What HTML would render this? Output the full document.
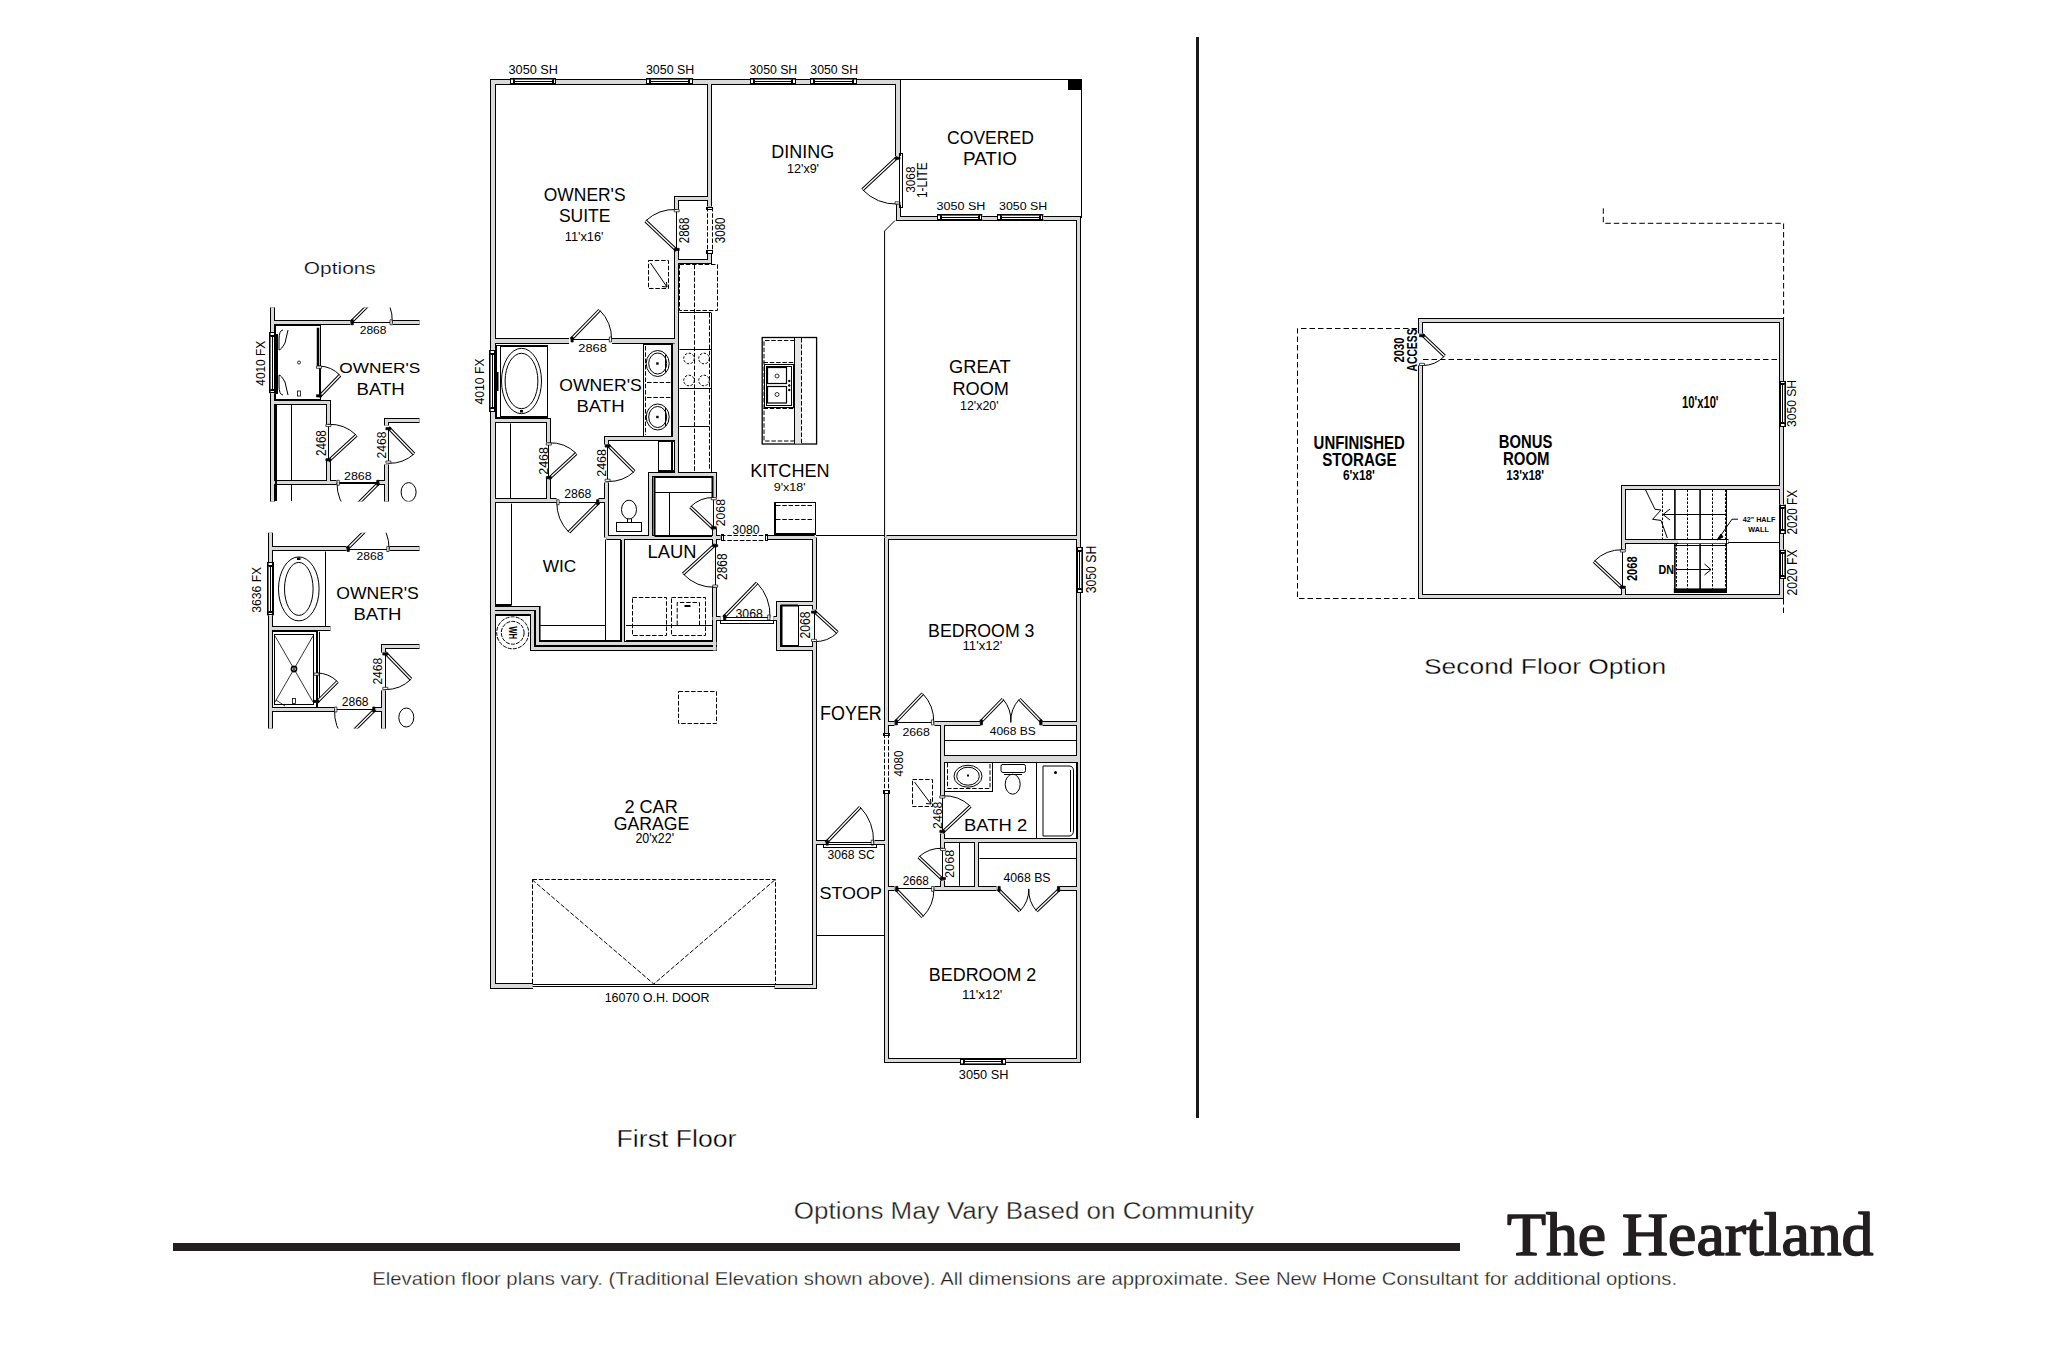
<!DOCTYPE html>
<html><head><meta charset="utf-8"><title>The Heartland</title>
<style>
html,body{margin:0;padding:0;background:#fff;}
body{width:2048px;height:1347px;overflow:hidden;}
svg{display:block;}
.F{font-family:"Liberation Sans",sans-serif;}
.S{font-family:"Liberation Serif",serif;}
</style></head><body>
<svg width="2048" height="1347" viewBox="0 0 2048 1347">
<rect x="0" y="0" width="2048" height="1347" fill="#fff"/>
<g fill="none">
<path d="M898 156 L898 82 L493 82 L493 986 L533 986" stroke="#000" stroke-width="6"/>
<path d="M774.5 986.5 L814.5 986.5 L814.5 641.5" stroke="#000" stroke-width="5"/>
<path d="M814.5 609.5 L814.5 537.5" stroke="#000" stroke-width="5"/>
<path d="M898.5 204.5 L898.5 218.5 L1078.5 218.5 L1078.5 1060.5 L886.5 1060.5 L886.5 793.5" stroke="#000" stroke-width="5"/>
<path d="M886.5 733.5 L886.5 537.5" stroke="#000" stroke-width="5"/>
<path d="M709.5 82.5 L709.5 206.5" stroke="#000" stroke-width="5"/>
<path d="M709.5 252.5 L709.5 261.5 L676.5 261.5" stroke="#000" stroke-width="5"/>
<path d="M709.5 198.5 L676.5 198.5 L676.5 209.5" stroke="#000" stroke-width="5"/>
<path d="M676.5 250.5 L676.5 474.5" stroke="#000" stroke-width="5"/>
<path d="M675.5 343.5 L675.5 438.5" stroke="#000" stroke-width="7"/>
<path d="M493 341 L569 341" stroke="#000" stroke-width="6"/>
<path d="M612 341 L677 341" stroke="#000" stroke-width="6"/>
<path d="M492.5 420.5 L548.5 420.5 L548.5 442.5" stroke="#000" stroke-width="5"/>
<path d="M548.5 478.5 L548.5 500.5" stroke="#000" stroke-width="5"/>
<path d="M492.5 500.5 L556.5 500.5" stroke="#000" stroke-width="5"/>
<path d="M598.5 500.5 L606.5 500.5" stroke="#000" stroke-width="5"/>
<path d="M676.5 438.5 L606.5 438.5 L606.5 444.5" stroke="#000" stroke-width="5"/>
<path d="M606.5 482.5 L606.5 537.5" stroke="#000" stroke-width="5"/>
<path d="M606.5 537.5 L720.5 537.5" stroke="#000" stroke-width="5"/>
<path d="M767.5 537.5 L814.5 537.5" stroke="#000" stroke-width="5"/>
<path d="M622.5 537.5 L622.5 642.5" stroke="#000" stroke-width="5"/>
<path d="M650.5 537.5 L650.5 474.5 L714.5 474.5 L714.5 497.5" stroke="#000" stroke-width="5"/>
<path d="M714.5 528.5 L714.5 544.5" stroke="#000" stroke-width="5"/>
<path d="M714.5 586.5 L714.5 650.5" stroke="#000" stroke-width="5"/>
<path d="M712.5 618.5 L720.5 618.5" stroke="#000" stroke-width="5"/>
<path d="M773.5 618.5 L778.5 618.5" stroke="#000" stroke-width="5"/>
<path d="M814.5 603.5 L778.5 603.5 L778.5 648.5 L814.5 648.5" stroke="#000" stroke-width="5"/>
<path d="M814.5 842.5 L826.5 842.5" stroke="#000" stroke-width="5"/>
<path d="M874.5 842.5 L886.5 842.5" stroke="#000" stroke-width="5"/>
<path d="M492.5 608.5 L537.5 608.5 L537.5 643.5 L716.5 643.5" stroke="#000" stroke-width="5"/>
<path d="M492.5 612.5 L532.5 612.5 L532.5 648.5 L716.5 648.5" stroke="#000" stroke-width="5"/>
<path d="M886.5 537.5 L1078.5 537.5" stroke="#000" stroke-width="5"/>
<path d="M886.5 723.5 L894.5 723.5" stroke="#000" stroke-width="5"/>
<path d="M934.5 723.5 L980.5 723.5" stroke="#000" stroke-width="5"/>
<path d="M1042.5 723.5 L1078.5 723.5" stroke="#000" stroke-width="5"/>
<path d="M942.5 723.5 L942.5 795.5" stroke="#000" stroke-width="5"/>
<path d="M942.5 833.5 L942.5 848.5" stroke="#000" stroke-width="5"/>
<path d="M942.5 880.5 L942.5 888.5" stroke="#000" stroke-width="5"/>
<path d="M942 759 L1079 759" stroke="#000" stroke-width="8"/>
<path d="M942.5 840.5 L1078.5 840.5" stroke="#000" stroke-width="5"/>
<path d="M976.5 840.5 L976.5 888.5" stroke="#000" stroke-width="5"/>
<path d="M886.5 888.5 L894.5 888.5" stroke="#000" stroke-width="5"/>
<path d="M934.5 888.5 L996.5 888.5" stroke="#000" stroke-width="5"/>
<path d="M1059.5 888.5 L1078.5 888.5" stroke="#000" stroke-width="5"/>
<path d="M898 156 L898 82 L493 82 L493 986 L533 986" stroke="#d9d9d9" stroke-width="4"/>
<path d="M774.5 986.5 L814.5 986.5 L814.5 641.5" stroke="#d9d9d9" stroke-width="3"/>
<path d="M814.5 609.5 L814.5 537.5" stroke="#d9d9d9" stroke-width="3"/>
<path d="M898.5 204.5 L898.5 218.5 L1078.5 218.5 L1078.5 1060.5 L886.5 1060.5 L886.5 793.5" stroke="#d9d9d9" stroke-width="3"/>
<path d="M886.5 733.5 L886.5 537.5" stroke="#d9d9d9" stroke-width="3"/>
<path d="M709.5 82.5 L709.5 206.5" stroke="#d9d9d9" stroke-width="3"/>
<path d="M709.5 252.5 L709.5 261.5 L676.5 261.5" stroke="#d9d9d9" stroke-width="3"/>
<path d="M709.5 198.5 L676.5 198.5 L676.5 209.5" stroke="#d9d9d9" stroke-width="3"/>
<path d="M676.5 250.5 L676.5 474.5" stroke="#d9d9d9" stroke-width="3"/>
<path d="M675.5 343.5 L675.5 438.5" stroke="#d9d9d9" stroke-width="5"/>
<path d="M493 341 L569 341" stroke="#d9d9d9" stroke-width="4"/>
<path d="M612 341 L677 341" stroke="#d9d9d9" stroke-width="4"/>
<path d="M492.5 420.5 L548.5 420.5 L548.5 442.5" stroke="#d9d9d9" stroke-width="3"/>
<path d="M548.5 478.5 L548.5 500.5" stroke="#d9d9d9" stroke-width="3"/>
<path d="M492.5 500.5 L556.5 500.5" stroke="#d9d9d9" stroke-width="3"/>
<path d="M598.5 500.5 L606.5 500.5" stroke="#d9d9d9" stroke-width="3"/>
<path d="M676.5 438.5 L606.5 438.5 L606.5 444.5" stroke="#d9d9d9" stroke-width="3"/>
<path d="M606.5 482.5 L606.5 537.5" stroke="#d9d9d9" stroke-width="3"/>
<path d="M606.5 537.5 L720.5 537.5" stroke="#d9d9d9" stroke-width="3"/>
<path d="M767.5 537.5 L814.5 537.5" stroke="#d9d9d9" stroke-width="3"/>
<path d="M622.5 537.5 L622.5 642.5" stroke="#d9d9d9" stroke-width="3"/>
<path d="M650.5 537.5 L650.5 474.5 L714.5 474.5 L714.5 497.5" stroke="#d9d9d9" stroke-width="3"/>
<path d="M714.5 528.5 L714.5 544.5" stroke="#d9d9d9" stroke-width="3"/>
<path d="M714.5 586.5 L714.5 650.5" stroke="#d9d9d9" stroke-width="3"/>
<path d="M712.5 618.5 L720.5 618.5" stroke="#d9d9d9" stroke-width="3"/>
<path d="M773.5 618.5 L778.5 618.5" stroke="#d9d9d9" stroke-width="3"/>
<path d="M814.5 603.5 L778.5 603.5 L778.5 648.5 L814.5 648.5" stroke="#d9d9d9" stroke-width="3"/>
<path d="M814.5 842.5 L826.5 842.5" stroke="#d9d9d9" stroke-width="3"/>
<path d="M874.5 842.5 L886.5 842.5" stroke="#d9d9d9" stroke-width="3"/>
<path d="M492.5 608.5 L537.5 608.5 L537.5 643.5 L716.5 643.5" stroke="#d9d9d9" stroke-width="3"/>
<path d="M492.5 612.5 L532.5 612.5 L532.5 648.5 L716.5 648.5" stroke="#d9d9d9" stroke-width="3"/>
<path d="M886.5 537.5 L1078.5 537.5" stroke="#d9d9d9" stroke-width="3"/>
<path d="M886.5 723.5 L894.5 723.5" stroke="#d9d9d9" stroke-width="3"/>
<path d="M934.5 723.5 L980.5 723.5" stroke="#d9d9d9" stroke-width="3"/>
<path d="M1042.5 723.5 L1078.5 723.5" stroke="#d9d9d9" stroke-width="3"/>
<path d="M942.5 723.5 L942.5 795.5" stroke="#d9d9d9" stroke-width="3"/>
<path d="M942.5 833.5 L942.5 848.5" stroke="#d9d9d9" stroke-width="3"/>
<path d="M942.5 880.5 L942.5 888.5" stroke="#d9d9d9" stroke-width="3"/>
<path d="M942 759 L1079 759" stroke="#d9d9d9" stroke-width="6"/>
<path d="M942.5 840.5 L1078.5 840.5" stroke="#d9d9d9" stroke-width="3"/>
<path d="M976.5 840.5 L976.5 888.5" stroke="#d9d9d9" stroke-width="3"/>
<path d="M886.5 888.5 L894.5 888.5" stroke="#d9d9d9" stroke-width="3"/>
<path d="M934.5 888.5 L996.5 888.5" stroke="#d9d9d9" stroke-width="3"/>
<path d="M1059.5 888.5 L1078.5 888.5" stroke="#d9d9d9" stroke-width="3"/>
<rect x="510" y="78" width="46" height="7" fill="#fff"/>
<rect x="510" y="78" width="46" height="1.6" fill="#000"/>
<rect x="513" y="81" width="40" height="1" fill="#000"/>
<rect x="510" y="83" width="46" height="2" fill="#000"/>
<rect x="510.5" y="78.5" width="3" height="6" stroke="#000" stroke-width="1" fill="none"/>
<rect x="553.5" y="78.5" width="2" height="6" stroke="#000" stroke-width="1" fill="none"/>
<line x1="514.5" y1="79.5" x2="514.5" y2="83.5" stroke="#000" stroke-width="1"/>
<line x1="552.5" y1="79.5" x2="552.5" y2="83.5" stroke="#000" stroke-width="1"/>
<rect x="646.4" y="78" width="46.1" height="7" fill="#fff"/>
<rect x="646.4" y="78" width="46.1" height="1.6" fill="#000"/>
<rect x="649.4" y="81" width="40.1" height="1" fill="#000"/>
<rect x="646.4" y="83" width="46.1" height="2" fill="#000"/>
<rect x="646.5" y="78.5" width="3" height="6" stroke="#000" stroke-width="1" fill="none"/>
<rect x="689.5" y="78.5" width="3" height="6" stroke="#000" stroke-width="1" fill="none"/>
<line x1="650.5" y1="79.5" x2="650.5" y2="83.5" stroke="#000" stroke-width="1"/>
<line x1="688.5" y1="79.5" x2="688.5" y2="83.5" stroke="#000" stroke-width="1"/>
<rect x="750.4" y="78" width="45.2" height="7" fill="#fff"/>
<rect x="750.4" y="78" width="45.2" height="1.6" fill="#000"/>
<rect x="753.4" y="81" width="39.2" height="1" fill="#000"/>
<rect x="750.4" y="83" width="45.2" height="2" fill="#000"/>
<rect x="750.5" y="78.5" width="3" height="6" stroke="#000" stroke-width="1" fill="none"/>
<rect x="792.5" y="78.5" width="3" height="6" stroke="#000" stroke-width="1" fill="none"/>
<line x1="754.5" y1="79.5" x2="754.5" y2="83.5" stroke="#000" stroke-width="1"/>
<line x1="791.5" y1="79.5" x2="791.5" y2="83.5" stroke="#000" stroke-width="1"/>
<rect x="810.3" y="78" width="46.3" height="7" fill="#fff"/>
<rect x="810.3" y="78" width="46.3" height="1.6" fill="#000"/>
<rect x="813.3" y="81" width="40.3" height="1" fill="#000"/>
<rect x="810.3" y="83" width="46.3" height="2" fill="#000"/>
<rect x="810.5" y="78.5" width="3" height="6" stroke="#000" stroke-width="1" fill="none"/>
<rect x="853.5" y="78.5" width="3" height="6" stroke="#000" stroke-width="1" fill="none"/>
<line x1="814.5" y1="79.5" x2="814.5" y2="83.5" stroke="#000" stroke-width="1"/>
<line x1="852.5" y1="79.5" x2="852.5" y2="83.5" stroke="#000" stroke-width="1"/>
<rect x="937" y="214" width="45.3" height="7" fill="#fff"/>
<rect x="937" y="214" width="45.3" height="1.6" fill="#000"/>
<rect x="940" y="217" width="39.3" height="1" fill="#000"/>
<rect x="937" y="219" width="45.3" height="2" fill="#000"/>
<rect x="937.5" y="214.5" width="3" height="6" stroke="#000" stroke-width="1" fill="none"/>
<rect x="979.5" y="214.5" width="2" height="6" stroke="#000" stroke-width="1" fill="none"/>
<line x1="941.5" y1="215.5" x2="941.5" y2="219.5" stroke="#000" stroke-width="1"/>
<line x1="978.5" y1="215.5" x2="978.5" y2="219.5" stroke="#000" stroke-width="1"/>
<rect x="997.4" y="214" width="46" height="7" fill="#fff"/>
<rect x="997.4" y="214" width="46" height="1.6" fill="#000"/>
<rect x="1000.4" y="217" width="40" height="1" fill="#000"/>
<rect x="997.4" y="219" width="46" height="2" fill="#000"/>
<rect x="997.5" y="214.5" width="3" height="6" stroke="#000" stroke-width="1" fill="none"/>
<rect x="1040.5" y="214.5" width="2" height="6" stroke="#000" stroke-width="1" fill="none"/>
<line x1="1001.5" y1="215.5" x2="1001.5" y2="219.5" stroke="#000" stroke-width="1"/>
<line x1="1039.5" y1="215.5" x2="1039.5" y2="219.5" stroke="#000" stroke-width="1"/>
<rect x="960.2" y="1058" width="45.4" height="7" fill="#fff"/>
<rect x="960.2" y="1058" width="45.4" height="2" fill="#000"/>
<rect x="963.2" y="1061" width="39.4" height="1" fill="#000"/>
<rect x="960.2" y="1063.4" width="45.4" height="1.6" fill="#000"/>
<rect x="960.5" y="1058.5" width="3" height="6" stroke="#000" stroke-width="1" fill="none"/>
<rect x="1002.5" y="1058.5" width="3" height="6" stroke="#000" stroke-width="1" fill="none"/>
<line x1="964.5" y1="1059.5" x2="964.5" y2="1063.5" stroke="#000" stroke-width="1"/>
<line x1="1001.5" y1="1059.5" x2="1001.5" y2="1063.5" stroke="#000" stroke-width="1"/>
<rect x="1076" y="547.4" width="7" height="45.4" fill="#fff"/>
<rect x="1076" y="547.4" width="2" height="45.4" fill="#000"/>
<rect x="1079" y="550.4" width="1" height="39.4" fill="#000"/>
<rect x="1081.4" y="547.4" width="1.6" height="45.4" fill="#000"/>
<rect x="1076.5" y="547.5" width="6" height="3" stroke="#000" stroke-width="1" fill="none"/>
<rect x="1076.5" y="589.5" width="6" height="3" stroke="#000" stroke-width="1" fill="none"/>
<line x1="1077.5" y1="551.5" x2="1081.5" y2="551.5" stroke="#000" stroke-width="1"/>
<line x1="1077.5" y1="588.5" x2="1081.5" y2="588.5" stroke="#000" stroke-width="1"/>
<rect x="489" y="350" width="7" height="61.7" fill="#fff"/>
<rect x="489" y="350" width="1.6" height="61.7" fill="#000"/>
<rect x="492" y="353" width="1" height="55.7" fill="#000"/>
<rect x="494" y="350" width="2" height="61.7" fill="#000"/>
<rect x="489.5" y="350.5" width="6" height="3" stroke="#000" stroke-width="1" fill="none"/>
<rect x="489.5" y="408.5" width="6" height="3" stroke="#000" stroke-width="1" fill="none"/>
<line x1="490.5" y1="354.5" x2="494.5" y2="354.5" stroke="#000" stroke-width="1"/>
<line x1="490.5" y1="407.5" x2="494.5" y2="407.5" stroke="#000" stroke-width="1"/>
<line x1="898" y1="79.5" x2="1082" y2="79.5" stroke="#000" stroke-width="1"/>
<line x1="1081.5" y1="79" x2="1081.5" y2="218" stroke="#000" stroke-width="1"/>
<rect x="1068" y="79" width="14" height="11" fill="#000"/>
<path d="M895 220.5 L884.6 231 L884.6 537" stroke="#000" stroke-width="1" fill="none"/>
<line x1="816" y1="535.5" x2="884.6" y2="535.5" stroke="#000" stroke-width="1"/>
<line x1="816.5" y1="935.5" x2="884" y2="935.5" stroke="#000" stroke-width="1"/>
<line x1="532.6" y1="984.5" x2="775" y2="984.5" stroke="#000" stroke-width="1"/>
<line x1="532.6" y1="986.5" x2="775" y2="986.5" stroke="#000" stroke-width="1"/>
<rect x="532.5" y="879.5" width="243" height="105" stroke="#000" stroke-width="1" fill="none" stroke-dasharray="4.5 1.8"/>
<path d="M532.2 879.8 L653.8 984 L775 879.8" stroke="#000" stroke-width="1" fill="none" stroke-dasharray="4.5 1.8"/>
<text class="F" transform="translate(508.49 73.8) scale(1.0128 1)" font-size="12.57" fill="#000">3050 SH</text>
<text class="F" transform="translate(645.9 73.8) scale(0.9896 1)" font-size="12.57" fill="#000">3050 SH</text>
<text class="F" transform="translate(749.51 73.8) scale(0.9769 1)" font-size="12.57" fill="#000">3050 SH</text>
<text class="F" transform="translate(810.31 73.8) scale(0.9790 1)" font-size="12.57" fill="#000">3050 SH</text>
<text class="F" transform="translate(771.26 157.7) scale(1.0309 1)" font-size="17.43" fill="#000">DINING</text>
<text class="F" transform="translate(787.06 173) scale(1.0447 1)" font-size="12" fill="#000">12'x9'</text>
<text class="F" transform="translate(947.12 143.6) scale(0.9905 1)" font-size="17.71" fill="#000">COVERED</text>
<text class="F" transform="translate(962.99 164.9) scale(1.0669 1)" font-size="17.71" fill="#000">PATIO</text>
<text class="F" transform="translate(936.5 209.5) scale(1.0733 1)" font-size="11.71" fill="#000">3050 SH</text>
<text class="F" transform="translate(999 209.5) scale(1.0574 1)" font-size="11.71" fill="#000">3050 SH</text>
<text class="F" transform="translate(915 192.77) rotate(-90) scale(0.9174 1)" font-size="12.86" fill="#000">3068</text>
<text class="F" transform="translate(926.7 197.99) rotate(-90) scale(0.8457 1)" font-size="14.06" fill="#000">1-LITE</text>
<text class="F" transform="translate(543.82 201) scale(0.9388 1)" font-size="18.57" fill="#000">OWNER'S</text>
<text class="F" transform="translate(558.91 222) scale(0.9151 1)" font-size="19.14" fill="#000">SUITE</text>
<text class="F" transform="translate(564.74 241.1) scale(1.0072 1)" font-size="12.71" fill="#000">11'x16'</text>
<text class="F" transform="translate(689.4 243.28) rotate(-90) scale(0.8018 1)" font-size="14.43" fill="#000">2868</text>
<text class="F" transform="translate(725 243.16) rotate(-90) scale(0.8061 1)" font-size="14.29" fill="#000">3080</text>
<text class="F" transform="translate(578.26 351.6) scale(1.1230 1)" font-size="11.43" fill="#000">2868</text>
<text class="F" transform="translate(559.21 391) scale(1.0812 1)" font-size="16.29" fill="#000">OWNER'S</text>
<text class="F" transform="translate(576.52 412.4) scale(1.1209 1)" font-size="16.52" fill="#000">BATH</text>
<text class="F" transform="translate(484.1 404.5) rotate(-90) scale(0.9581 1)" font-size="12.71" fill="#000">4010 FX</text>
<text class="F" transform="translate(547.5 474.83) rotate(-90) scale(0.9348 1)" font-size="13.43" fill="#000">2468</text>
<text class="F" transform="translate(605.6 476.83) rotate(-90) scale(0.9348 1)" font-size="13.43" fill="#000">2468</text>
<text class="F" transform="translate(564.19 497.5) scale(0.9950 1)" font-size="12.29" fill="#000">2868</text>
<text class="F" transform="translate(542.71 572.4) scale(0.9983 1)" font-size="17.29" fill="#000">WIC</text>
<text class="F" transform="translate(647.53 557.7) scale(1.0472 1)" font-size="17.54" fill="#000">LAUN</text>
<text class="F" transform="translate(725.2 526.21) rotate(-90) scale(0.9104 1)" font-size="13.43" fill="#000">2068</text>
<text class="F" transform="translate(727.2 579.89) rotate(-90) scale(0.7783 1)" font-size="15.29" fill="#000">2868</text>
<text class="F" transform="translate(732.31 533.9) scale(1.0018 1)" font-size="12.29" fill="#000">3080</text>
<text class="F" transform="translate(750.25 476.8) scale(1.0046 1)" font-size="18" fill="#000">KITCHEN</text>
<text class="F" transform="translate(773.74 490.8) scale(1.0807 1)" font-size="11.57" fill="#000">9'x18'</text>
<text class="F" transform="translate(735.51 617.9) scale(1.0018 1)" font-size="12.29" fill="#000">3068</text>
<text class="F" transform="translate(810.3 638.4) rotate(-90) scale(0.8721 1)" font-size="13.86" fill="#000">2068</text>
<text class="F" transform="translate(820.07 719.5) scale(0.9293 1)" font-size="19.29" fill="#000">FOYER</text>
<text class="F" transform="translate(902.5 776.49) rotate(-90) scale(0.8842 1)" font-size="13.14" fill="#000">4080</text>
<text class="F" transform="translate(928.08 637) scale(0.9699 1)" font-size="18.29" fill="#000">BEDROOM 3</text>
<text class="F" transform="translate(962.52 649.6) scale(1.0675 1)" font-size="12.29" fill="#000">11'x12'</text>
<text class="F" transform="translate(1095.8 593.29) rotate(-90) scale(0.8560 1)" font-size="14.29" fill="#000">3050 SH</text>
<text class="F" transform="translate(902.38 736.4) scale(1.0957 1)" font-size="11.29" fill="#000">2668</text>
<text class="F" transform="translate(989.7 734.6) scale(1.0528 1)" font-size="11.43" fill="#000">4068 BS</text>
<text class="F" transform="translate(941.6 828.92) rotate(-90) scale(1.0027 1)" font-size="12.29" fill="#000">2468</text>
<text class="F" transform="translate(964.03 831.4) scale(1.1022 1)" font-size="16.71" fill="#000">BATH 2</text>
<text class="F" transform="translate(827.51 859) scale(0.9778 1)" font-size="12.43" fill="#000">3068 SC</text>
<text class="F" transform="translate(819.49 898.5) scale(1.0374 1)" font-size="17.29" fill="#000">STOOP</text>
<text class="F" transform="translate(902.71 885) scale(0.9144 1)" font-size="12.86" fill="#000">2668</text>
<text class="F" transform="translate(954.4 877.93) rotate(-90) scale(1.0294 1)" font-size="12.29" fill="#000">2068</text>
<text class="F" transform="translate(1003.39 882.1) scale(0.9895 1)" font-size="12.43" fill="#000">4068 BS</text>
<text class="F" transform="translate(928.87 980.6) scale(0.9956 1)" font-size="18" fill="#000">BEDROOM 2</text>
<text class="F" transform="translate(962 998.9) scale(1.0719 1)" font-size="12.43" fill="#000">11'x12'</text>
<text class="F" transform="translate(958.79 1079) scale(0.9323 1)" font-size="13.71" fill="#000">3050 SH</text>
<text class="F" transform="translate(624.39 813) scale(1.0159 1)" font-size="17.86" fill="#000">2 CAR</text>
<text class="F" transform="translate(613.72 830) scale(0.9810 1)" font-size="18" fill="#000">GARAGE</text>
<text class="F" transform="translate(635.38 843.3) scale(0.8890 1)" font-size="14" fill="#000">20'x22'</text>
<text class="F" transform="translate(604.66 1001.9) scale(0.9834 1)" font-size="12.71" fill="#000">16070 O.H. DOOR</text>
<text class="F" transform="translate(949.09 372.8) scale(0.9976 1)" font-size="18.29" fill="#000">GREAT</text>
<text class="F" transform="translate(952.45 395.1) scale(0.9841 1)" font-size="18.43" fill="#000">ROOM</text>
<text class="F" transform="translate(960.07 410) scale(1.0471 1)" font-size="11.86" fill="#000">12'x20'</text>
<rect x="1196" y="37" width="3" height="1081" fill="#1a1a1a"/>
<rect x="173" y="1243" width="1287" height="8" fill="#231f20"/>
<text class="F" transform="translate(616.62 1147) scale(1.1490 1)" font-size="23.17" fill="#000" stroke="#fff" stroke-width="0.3">First Floor</text>
<text class="F" transform="translate(1424.01 673.7) scale(1.1531 1)" font-size="22.9" fill="#000" stroke="#fff" stroke-width="0.3">Second Floor Option</text>
<text class="F" transform="translate(303.86 273.6) scale(1.2021 1)" font-size="17.38" fill="#000" stroke="#fff" stroke-width="0.25">Options</text>
<text class="F" transform="translate(793.83 1219) scale(1.1084 1)" font-size="23.45" fill="#231f20" stroke="#fff" stroke-width="0.3">Options May Vary Based on Community</text>
<text class="F" transform="translate(372.28 1285.1) scale(1.1217 1)" font-size="18.07" fill="#231f20" stroke="#fff" stroke-width="0.25">Elevation floor plans vary. (Traditional Elevation shown above). All dimensions are approximate. See New Home Consultant for additional options.</text>
<text class="S" transform="translate(1506.92 1254.8) scale(1.0557 1)" font-size="60.43" fill="#231f20" stroke="#231f20" stroke-width="1.6" stroke-linejoin="round">The Heartland</text>
<line x1="676.5" y1="250.6" x2="676.5" y2="209.5" stroke="#000" stroke-width="1"/>
<line x1="676.7" y1="250.6" x2="645.6" y2="220.9" stroke="#000" stroke-width="3.4"/>
<line x1="676.7" y1="250.6" x2="645.6" y2="220.9" stroke="#fff" stroke-width="1.4"/>
<path d="M645.6 220.9 A43 43 0 0 1 676.7 209.5" stroke="#000" stroke-width="1" fill="none"/>
<polygon points="674.2,250.5 674.2,248.3 679.2,248.3 679.2,250.5" fill="#000" stroke="#000" stroke-width="0.7"/>
<polygon points="674.2,211.8 674.2,209.6 679.2,209.6 679.2,211.8" fill="#fff" stroke="#000" stroke-width="0.7"/>
<line x1="897.5" y1="157" x2="862.5" y2="189.7" stroke="#000" stroke-width="3.4"/>
<line x1="897.5" y1="157" x2="862.5" y2="189.7" stroke="#fff" stroke-width="1.4"/>
<path d="M862.5 189.7 A47.9 47.9 0 0 0 897.5 204.1" stroke="#000" stroke-width="1" fill="none"/>
<polygon points="900,157.1 900,159.3 895,159.3 895,157.1" fill="#000" stroke="#000" stroke-width="0.7"/>
<polygon points="900,201.8 900,204 895,204 895,201.8" fill="#fff" stroke="#000" stroke-width="0.7"/>
<line x1="570.9" y1="339.5" x2="611.6" y2="339.5" stroke="#000" stroke-width="1"/>
<line x1="570.9" y1="339.5" x2="599.6" y2="310.1" stroke="#000" stroke-width="3.4"/>
<line x1="570.9" y1="339.5" x2="599.6" y2="310.1" stroke="#fff" stroke-width="1.4"/>
<path d="M599.6 310.1 A41.09 41.09 0 0 1 611.6 339.5" stroke="#000" stroke-width="1" fill="none"/>
<polygon points="571,337 573.2,337 573.2,342 571,342" fill="#000" stroke="#000" stroke-width="0.7"/>
<polygon points="609.3,337 611.5,337 611.5,342 609.3,342" fill="#fff" stroke="#000" stroke-width="0.7"/>
<line x1="548.5" y1="478.8" x2="548.5" y2="442.8" stroke="#000" stroke-width="1"/>
<line x1="548.8" y1="478.8" x2="576.2" y2="453.4" stroke="#000" stroke-width="3.4"/>
<line x1="548.8" y1="478.8" x2="576.2" y2="453.4" stroke="#fff" stroke-width="1.4"/>
<path d="M576.2 453.4 A37.36 37.36 0 0 0 548.8 442.8" stroke="#000" stroke-width="1" fill="none"/>
<polygon points="546.3,478.7 546.3,476.5 551.3,476.5 551.3,478.7" fill="#000" stroke="#000" stroke-width="0.7"/>
<polygon points="546.3,445.1 546.3,442.9 551.3,442.9 551.3,445.1" fill="#fff" stroke="#000" stroke-width="0.7"/>
<line x1="598.9" y1="502.5" x2="556.8" y2="502.5" stroke="#000" stroke-width="1"/>
<line x1="598.9" y1="502.2" x2="568.9" y2="532.3" stroke="#000" stroke-width="3.4"/>
<line x1="598.9" y1="502.2" x2="568.9" y2="532.3" stroke="#fff" stroke-width="1.4"/>
<path d="M568.9 532.3 A42.5 42.5 0 0 1 556.8 502.2" stroke="#000" stroke-width="1" fill="none"/>
<polygon points="598.8,504.7 596.6,504.7 596.6,499.7 598.8,499.7" fill="#000" stroke="#000" stroke-width="0.7"/>
<polygon points="559.1,504.7 556.9,504.7 556.9,499.7 559.1,499.7" fill="#fff" stroke="#000" stroke-width="0.7"/>
<line x1="607.5" y1="444.8" x2="607.5" y2="481.5" stroke="#000" stroke-width="1"/>
<line x1="607.6" y1="444.8" x2="634.3" y2="471.5" stroke="#000" stroke-width="3.4"/>
<line x1="607.6" y1="444.8" x2="634.3" y2="471.5" stroke="#fff" stroke-width="1.4"/>
<path d="M634.3 471.5 A37.76 37.76 0 0 1 607.6 481.5" stroke="#000" stroke-width="1" fill="none"/>
<polygon points="610.1,444.9 610.1,447.1 605.1,447.1 605.1,444.9" fill="#000" stroke="#000" stroke-width="0.7"/>
<polygon points="610.1,479.2 610.1,481.4 605.1,481.4 605.1,479.2" fill="#fff" stroke="#000" stroke-width="0.7"/>
<line x1="713.5" y1="529" x2="713.5" y2="497.5" stroke="#000" stroke-width="1"/>
<line x1="713.8" y1="529" x2="690.4" y2="506.9" stroke="#000" stroke-width="3.4"/>
<line x1="713.8" y1="529" x2="690.4" y2="506.9" stroke="#fff" stroke-width="1.4"/>
<path d="M690.4 506.9 A32.19 32.19 0 0 1 713.8 497.5" stroke="#000" stroke-width="1" fill="none"/>
<polygon points="711.3,528.9 711.3,526.7 716.3,526.7 716.3,528.9" fill="#000" stroke="#000" stroke-width="0.7"/>
<polygon points="711.3,499.8 711.3,497.6 716.3,497.6 716.3,499.8" fill="#fff" stroke="#000" stroke-width="0.7"/>
<line x1="715.5" y1="544.5" x2="715.5" y2="587.3" stroke="#000" stroke-width="1"/>
<line x1="715.2" y1="544.5" x2="683.1" y2="573.9" stroke="#000" stroke-width="3.4"/>
<line x1="715.2" y1="544.5" x2="683.1" y2="573.9" stroke="#fff" stroke-width="1.4"/>
<path d="M683.1 573.9 A43.53 43.53 0 0 0 715.2 587.3" stroke="#000" stroke-width="1" fill="none"/>
<polygon points="717.7,544.6 717.7,546.8 712.7,546.8 712.7,544.6" fill="#000" stroke="#000" stroke-width="0.7"/>
<polygon points="717.7,585 717.7,587.2 712.7,587.2 712.7,585" fill="#fff" stroke="#000" stroke-width="0.7"/>
<line x1="723.5" y1="617.5" x2="770" y2="617.5" stroke="#000" stroke-width="1"/>
<line x1="723.5" y1="617.5" x2="757" y2="582.9" stroke="#000" stroke-width="3.4"/>
<line x1="723.5" y1="617.5" x2="757" y2="582.9" stroke="#fff" stroke-width="1.4"/>
<path d="M757 582.9 A48.16 48.16 0 0 1 770 617.5" stroke="#000" stroke-width="1" fill="none"/>
<polygon points="723.6,615 725.8,615 725.8,620 723.6,620" fill="#000" stroke="#000" stroke-width="0.7"/>
<polygon points="767.7,615 769.9,615 769.9,620 767.7,620" fill="#fff" stroke="#000" stroke-width="0.7"/>
<line x1="814.5" y1="610.9" x2="814.5" y2="641.6" stroke="#000" stroke-width="1"/>
<line x1="814" y1="610.9" x2="837.5" y2="632.5" stroke="#000" stroke-width="3.4"/>
<line x1="814" y1="610.9" x2="837.5" y2="632.5" stroke="#fff" stroke-width="1.4"/>
<path d="M837.5 632.5 A31.92 31.92 0 0 1 814 641.6" stroke="#000" stroke-width="1" fill="none"/>
<polygon points="816.5,611 816.5,613.2 811.5,613.2 811.5,611" fill="#000" stroke="#000" stroke-width="0.7"/>
<polygon points="816.5,639.3 816.5,641.5 811.5,641.5 811.5,639.3" fill="#fff" stroke="#000" stroke-width="0.7"/>
<line x1="895.1" y1="722.5" x2="933.7" y2="722.5" stroke="#000" stroke-width="1"/>
<line x1="895.1" y1="722.4" x2="922.7" y2="693.6" stroke="#000" stroke-width="3.4"/>
<line x1="895.1" y1="722.4" x2="922.7" y2="693.6" stroke="#fff" stroke-width="1.4"/>
<path d="M922.7 693.6 A39.89 39.89 0 0 1 933.7 722.4" stroke="#000" stroke-width="1" fill="none"/>
<polygon points="895.2,719.9 897.4,719.9 897.4,724.9 895.2,724.9" fill="#000" stroke="#000" stroke-width="0.7"/>
<polygon points="931.4,719.9 933.6,719.9 933.6,724.9 931.4,724.9" fill="#fff" stroke="#000" stroke-width="0.7"/>
<line x1="980.2" y1="722.4" x2="1002.9" y2="699.1" stroke="#000" stroke-width="3.4"/>
<line x1="980.2" y1="722.4" x2="1002.9" y2="699.1" stroke="#fff" stroke-width="1.4"/>
<path d="M1002.9 699.1 A32.53 32.53 0 0 1 1010.8 722.4" stroke="#000" stroke-width="1" fill="none"/>
<polygon points="980.3,719.9 982.5,719.9 982.5,724.9 980.3,724.9" fill="#000" stroke="#000" stroke-width="0.7"/>
<line x1="1042" y1="722.4" x2="1019.4" y2="699.1" stroke="#000" stroke-width="3.4"/>
<line x1="1042" y1="722.4" x2="1019.4" y2="699.1" stroke="#fff" stroke-width="1.4"/>
<path d="M1019.4 699.1 A32.46 32.46 0 0 0 1010.8 722.4" stroke="#000" stroke-width="1" fill="none"/>
<polygon points="1041.9,724.9 1039.7,724.9 1039.7,719.9 1041.9,719.9" fill="#000" stroke="#000" stroke-width="0.7"/>
<line x1="942.5" y1="832.6" x2="942.5" y2="795.8" stroke="#000" stroke-width="1"/>
<line x1="942.3" y1="832.6" x2="970.4" y2="806.2" stroke="#000" stroke-width="3.4"/>
<line x1="942.3" y1="832.6" x2="970.4" y2="806.2" stroke="#fff" stroke-width="1.4"/>
<path d="M970.4 806.2 A38.56 38.56 0 0 0 942.3 795.8" stroke="#000" stroke-width="1" fill="none"/>
<polygon points="939.8,832.5 939.8,830.3 944.8,830.3 944.8,832.5" fill="#000" stroke="#000" stroke-width="0.7"/>
<polygon points="939.8,798.1 939.8,795.9 944.8,795.9 944.8,798.1" fill="#fff" stroke="#000" stroke-width="0.7"/>
<line x1="942.5" y1="879.8" x2="942.5" y2="848.3" stroke="#000" stroke-width="1"/>
<line x1="942.9" y1="879.8" x2="918.7" y2="857" stroke="#000" stroke-width="3.4"/>
<line x1="942.9" y1="879.8" x2="918.7" y2="857" stroke="#fff" stroke-width="1.4"/>
<path d="M918.7 857 A33.25 33.25 0 0 1 942.9 848.3" stroke="#000" stroke-width="1" fill="none"/>
<polygon points="940.4,879.7 940.4,877.5 945.4,877.5 945.4,879.7" fill="#000" stroke="#000" stroke-width="0.7"/>
<polygon points="940.4,850.6 940.4,848.4 945.4,848.4 945.4,850.6" fill="#fff" stroke="#000" stroke-width="0.7"/>
<line x1="895.6" y1="888.5" x2="933.9" y2="888.5" stroke="#000" stroke-width="1"/>
<line x1="895.6" y1="888.9" x2="922.6" y2="916.9" stroke="#000" stroke-width="3.4"/>
<line x1="895.6" y1="888.9" x2="922.6" y2="916.9" stroke="#fff" stroke-width="1.4"/>
<path d="M922.6 916.9 A38.9 38.9 0 0 0 933.9 888.9" stroke="#000" stroke-width="1" fill="none"/>
<polygon points="895.7,886.4 897.9,886.4 897.9,891.4 895.7,891.4" fill="#000" stroke="#000" stroke-width="0.7"/>
<polygon points="931.6,886.4 933.8,886.4 933.8,891.4 931.6,891.4" fill="#fff" stroke="#000" stroke-width="0.7"/>
<line x1="997.9" y1="888.9" x2="1020" y2="911" stroke="#000" stroke-width="3.4"/>
<line x1="997.9" y1="888.9" x2="1020" y2="911" stroke="#fff" stroke-width="1.4"/>
<path d="M1020 911 A31.25 31.25 0 0 0 1028.8 888.9" stroke="#000" stroke-width="1" fill="none"/>
<polygon points="998,886.4 1000.2,886.4 1000.2,891.4 998,891.4" fill="#000" stroke="#000" stroke-width="0.7"/>
<line x1="1059.7" y1="888.9" x2="1036.5" y2="911" stroke="#000" stroke-width="3.4"/>
<line x1="1059.7" y1="888.9" x2="1036.5" y2="911" stroke="#fff" stroke-width="1.4"/>
<path d="M1036.5 911 A32.04 32.04 0 0 1 1028.8 888.9" stroke="#000" stroke-width="1" fill="none"/>
<polygon points="1059.6,891.4 1057.4,891.4 1057.4,886.4 1059.6,886.4" fill="#000" stroke="#000" stroke-width="0.7"/>
<line x1="826" y1="842.5" x2="873.5" y2="842.5" stroke="#000" stroke-width="1"/>
<line x1="826" y1="842.7" x2="860.2" y2="807.1" stroke="#000" stroke-width="3.4"/>
<line x1="826" y1="842.7" x2="860.2" y2="807.1" stroke="#fff" stroke-width="1.4"/>
<path d="M860.2 807.1 A49.37 49.37 0 0 1 873.5 842.7" stroke="#000" stroke-width="1" fill="none"/>
<polygon points="826.1,840.2 828.3,840.2 828.3,845.2 826.1,845.2" fill="#000" stroke="#000" stroke-width="0.7"/>
<polygon points="871.2,840.2 873.4,840.2 873.4,845.2 871.2,845.2" fill="#fff" stroke="#000" stroke-width="0.7"/>
<rect x="899.5" y="153.5" width="3" height="54" stroke="#000" stroke-width="1" fill="none"/>
<rect x="720.5" y="620.5" width="53" height="3" stroke="#000" stroke-width="1" fill="none"/>
<rect x="823.5" y="844.5" width="53" height="3" stroke="#000" stroke-width="1" fill="none"/>
<rect x="721" y="534.5" width="46.8" height="6" fill="#fff"/>
<line x1="721" y1="535.5" x2="767.8" y2="535.5" stroke="#000" stroke-width="1" stroke-dasharray="4.5 1.8"/>
<line x1="721" y1="540.5" x2="767.8" y2="540.5" stroke="#000" stroke-width="1" stroke-dasharray="4.5 1.8"/>
<rect x="721.5" y="534.5" width="2" height="6" stroke="#000" stroke-width="1" fill="none"/>
<rect x="765.5" y="534.5" width="2" height="6" stroke="#000" stroke-width="1" fill="none"/>
<rect x="706.5" y="207" width="6" height="46" fill="#fff"/>
<line x1="707.5" y1="207" x2="707.5" y2="253" stroke="#000" stroke-width="1" stroke-dasharray="4.5 1.8"/>
<line x1="712.5" y1="207" x2="712.5" y2="253" stroke="#000" stroke-width="1" stroke-dasharray="4.5 1.8"/>
<rect x="706.5" y="207.5" width="6" height="2" stroke="#000" stroke-width="1" fill="none"/>
<rect x="706.5" y="250.5" width="6" height="3" stroke="#000" stroke-width="1" fill="none"/>
<rect x="883.8" y="733.4" width="5.4" height="60" fill="#fff"/>
<line x1="884.5" y1="733.4" x2="884.5" y2="793.4" stroke="#000" stroke-width="1" stroke-dasharray="4.5 1.8"/>
<line x1="888.5" y1="733.4" x2="888.5" y2="793.4" stroke="#000" stroke-width="1" stroke-dasharray="4.5 1.8"/>
<rect x="883.5" y="733.5" width="6" height="2" stroke="#000" stroke-width="1" fill="none"/>
<rect x="883.5" y="790.5" width="6" height="3" stroke="#000" stroke-width="1" fill="none"/>
<rect x="648.5" y="260.5" width="20" height="28" stroke="#000" stroke-width="1" fill="none" stroke-dasharray="4.5 1.8"/>
<line x1="650.5" y1="263" x2="667" y2="287" stroke="#000" stroke-width="1"/>
<path d="M662 286.5 L667 287 L666.5 282" stroke="#000" stroke-width="1" fill="none"/>
<rect x="679.5" y="264.5" width="38" height="46" stroke="#000" stroke-width="1" fill="none" stroke-dasharray="4.5 1.8"/>
<line x1="694.5" y1="264.7" x2="694.5" y2="472" stroke="#000" stroke-width="1" stroke-dasharray="4.5 1.8"/>
<line x1="679.5" y1="312.5" x2="711.2" y2="312.5" stroke="#000" stroke-width="1"/>
<line x1="711.5" y1="312.8" x2="711.5" y2="472" stroke="#000" stroke-width="1"/>
<line x1="679.5" y1="349.5" x2="711.2" y2="349.5" stroke="#000" stroke-width="1"/>
<line x1="679.5" y1="388.5" x2="711.2" y2="388.5" stroke="#000" stroke-width="1"/>
<line x1="679.5" y1="426.5" x2="709" y2="426.5" stroke="#000" stroke-width="1"/>
<line x1="709.5" y1="313" x2="709.5" y2="470" stroke="#000" stroke-width="1" stroke-dasharray="4.5 1.8"/>
<circle cx="689" cy="358.5" r="5.3" stroke="#000" stroke-width="1" stroke-dasharray="2.5 1.5"/>
<circle cx="689" cy="380.5" r="5.3" stroke="#000" stroke-width="1" stroke-dasharray="2.5 1.5"/>
<circle cx="704" cy="358.5" r="5.3" stroke="#000" stroke-width="1" stroke-dasharray="2.5 1.5"/>
<circle cx="704" cy="380.5" r="5.3" stroke="#000" stroke-width="1" stroke-dasharray="2.5 1.5"/>
<rect x="643.5" y="344.5" width="28" height="92" stroke="#000" stroke-width="1" fill="none"/>
<line x1="647" y1="382.5" x2="671" y2="382.5" stroke="#000" stroke-width="1" stroke-dasharray="4.5 1.8"/>
<line x1="647" y1="397.5" x2="671" y2="397.5" stroke="#000" stroke-width="1" stroke-dasharray="4.5 1.8"/>
<line x1="645.5" y1="346" x2="645.5" y2="435" stroke="#000" stroke-width="1" stroke-dasharray="4.5 1.8"/>
<ellipse cx="657.7" cy="363.5" rx="11.5" ry="13" stroke="#000" stroke-width="1" fill="none"/>
<ellipse cx="657.7" cy="363.5" rx="9" ry="10.5" stroke="#000" stroke-width="1" fill="none"/>
<line x1="665.5" y1="354.5" x2="665.5" y2="372.5" stroke="#000" stroke-width="1"/>
<rect x="656.2" y="362.3" width="2.4" height="2.4" fill="#000"/>
<ellipse cx="657.7" cy="417" rx="11.5" ry="13" stroke="#000" stroke-width="1" fill="none"/>
<ellipse cx="657.7" cy="417" rx="9" ry="10.5" stroke="#000" stroke-width="1" fill="none"/>
<line x1="665.5" y1="408" x2="665.5" y2="426" stroke="#000" stroke-width="1"/>
<rect x="656.2" y="415.8" width="2.4" height="2.4" fill="#000"/>
<rect x="496.5" y="345.5" width="51" height="72" stroke="#000" stroke-width="1" fill="none"/>
<rect x="500.5" y="346.5" width="47" height="70" stroke="#000" stroke-width="1" fill="none"/>
<rect x="494.5" y="372" width="4" height="19" fill="#000"/>
<ellipse cx="521.5" cy="381" rx="20" ry="32.7" stroke="#000" stroke-width="1" fill="none"/>
<ellipse cx="521.5" cy="381" rx="16.4" ry="27.7" stroke="#000" stroke-width="1" fill="none"/>
<rect x="520" y="410" width="3" height="2.5" fill="#000"/>
<line x1="510.5" y1="423.5" x2="510.5" y2="498.5" stroke="#000" stroke-width="1"/>
<line x1="511.5" y1="503.6" x2="511.5" y2="605.4" stroke="#000" stroke-width="1"/>
<line x1="540" y1="625.5" x2="605.6" y2="625.5" stroke="#000" stroke-width="1"/>
<line x1="605.5" y1="539.5" x2="605.5" y2="640.5" stroke="#000" stroke-width="1"/>
<line x1="495.5" y1="605" x2="511.4" y2="605" stroke="#000" stroke-width="2"/>
<line x1="539.8" y1="606" x2="539.8" y2="641.4" stroke="#000" stroke-width="1.5"/>
<line x1="539" y1="641" x2="622" y2="641" stroke="#000" stroke-width="2"/>
<line x1="621" y1="540" x2="621" y2="641.4" stroke="#000" stroke-width="2"/>
<circle cx="512.7" cy="632.8" r="16" stroke="#000" stroke-width="1" stroke-dasharray="4 1.2"/>
<circle cx="512.7" cy="632.8" r="11.4" stroke="#000" stroke-width="1" stroke-dasharray="4 1.2"/>
<text class="F" transform="translate(509 626.3) rotate(90) scale(0.6769 1)" font-size="11.45" font-weight="bold" fill="#000">WH</text>
<line x1="496" y1="615.5" x2="530" y2="615.5" stroke="#000" stroke-width="1"/>
<rect x="616.5" y="522.5" width="25" height="9" stroke="#000" stroke-width="1" fill="none"/>
<ellipse cx="629" cy="509.6" rx="7.5" ry="9.4" stroke="#000" stroke-width="1" fill="none"/>
<line x1="627.5" y1="519" x2="627.5" y2="522.3" stroke="#000" stroke-width="1"/>
<line x1="631.5" y1="519" x2="631.5" y2="522.3" stroke="#000" stroke-width="1"/>
<rect x="658.5" y="441.5" width="16" height="31" stroke="#000" stroke-width="1" fill="none"/>
<line x1="672" y1="441.4" x2="672" y2="472.2" stroke="#000" stroke-width="2"/>
<line x1="658.4" y1="471" x2="674.4" y2="471" stroke="#000" stroke-width="2"/>
<path d="M654.5 536 L654.5 477 L712.5 477 L712.5 497.5" stroke="#000" stroke-width="2" fill="none"/>
<line x1="654.5" y1="536" x2="712" y2="536" stroke="#000" stroke-width="2"/>
<line x1="655" y1="492.5" x2="712" y2="492.5" stroke="#000" stroke-width="1"/>
<line x1="669.5" y1="492.2" x2="669.5" y2="535" stroke="#000" stroke-width="1"/>
<line x1="626" y1="625.5" x2="712" y2="625.5" stroke="#000" stroke-width="1"/>
<rect x="632.5" y="597.5" width="34" height="38" stroke="#000" stroke-width="1" fill="none" stroke-dasharray="4.5 1.8"/>
<rect x="671.5" y="597.5" width="34" height="38" stroke="#000" stroke-width="1" fill="none" stroke-dasharray="4.5 1.8"/>
<path d="M677.2 625 L677.2 602.5 L699.5 602.5 L699.5 625" stroke="#000" stroke-width="1" fill="none" stroke-dasharray="4.5 1.8"/>
<line x1="684.5" y1="606" x2="690.5" y2="606" stroke="#000" stroke-width="2"/>
<line x1="626" y1="641" x2="712" y2="641" stroke="#000" stroke-width="2"/>
<rect x="678.5" y="691.5" width="38" height="32" stroke="#000" stroke-width="1" fill="none" stroke-dasharray="4.5 1.8"/>
<path d="M798 605.5 L781.5 605.5 L781.5 646 L798 646" stroke="#000" stroke-width="2" fill="none"/>
<line x1="798.5" y1="605.5" x2="798.5" y2="646" stroke="#000" stroke-width="1"/>
<rect x="762.2" y="337.5" width="54.4" height="106.5" stroke="#000" stroke-width="1.3" fill="none"/>
<path d="M794.7 340.5 L764 340.5 L764 441 L794.7 441" stroke="#000" stroke-width="1" fill="none" stroke-dasharray="4.5 1.8"/>
<line x1="763.5" y1="362.5" x2="794.7" y2="362.5" stroke="#000" stroke-width="1" stroke-dasharray="4.5 1.8"/>
<line x1="763.5" y1="408.5" x2="794.7" y2="408.5" stroke="#000" stroke-width="1" stroke-dasharray="4.5 1.8"/>
<rect x="794.7" y="338" width="7" height="105.5" fill="#e6e6e6"/>
<line x1="794.5" y1="337.5" x2="794.5" y2="444" stroke="#000" stroke-width="1"/>
<line x1="801.5" y1="338" x2="801.5" y2="444" stroke="#000" stroke-width="1" stroke-dasharray="4.5 1.8"/>
<rect x="764.5" y="364.5" width="29" height="43" stroke="#000" stroke-width="1" fill="none"/>
<rect x="766.5" y="366.5" width="25" height="39" stroke="#000" stroke-width="1" fill="none"/>
<rect x="767.5" y="367.5" width="19" height="16" stroke="#000" stroke-width="1.2" fill="none"/>
<rect x="767.5" y="386.5" width="19" height="16.5" stroke="#000" stroke-width="1.2" fill="none"/>
<circle cx="789.3" cy="381" r="1.2" fill="#000"/>
<circle cx="789.3" cy="385.5" r="1.2" fill="#000"/>
<circle cx="789.3" cy="390" r="1.2" fill="#000"/>
<circle cx="777" cy="376" r="2" stroke="#000" stroke-width="0.8"/>
<circle cx="777" cy="394.5" r="2" stroke="#000" stroke-width="0.8"/>
<rect x="774.5" y="502.5" width="41" height="32" stroke="#000" stroke-width="1" fill="none"/>
<line x1="775" y1="502.3" x2="775" y2="534.4" stroke="#000" stroke-width="2"/>
<line x1="774.5" y1="534" x2="815.7" y2="534" stroke="#000" stroke-width="2"/>
<line x1="776" y1="505.5" x2="814" y2="505.5" stroke="#000" stroke-width="1" stroke-dasharray="4.5 1.8"/>
<line x1="776" y1="519.5" x2="814" y2="519.5" stroke="#000" stroke-width="1" stroke-dasharray="4.5 1.8"/>
<line x1="944.5" y1="740.5" x2="1076.5" y2="740.5" stroke="#000" stroke-width="1"/>
<line x1="979.5" y1="858.5" x2="1076.5" y2="858.5" stroke="#000" stroke-width="1"/>
<line x1="959.5" y1="843" x2="959.5" y2="885.8" stroke="#000" stroke-width="1"/>
<rect x="944.5" y="762.5" width="48" height="29" stroke="#000" stroke-width="1" fill="none"/>
<path d="M947.5 762.8 L947.5 788.5 L990 788.5 L990 762.8" stroke="#000" stroke-width="1" fill="none" stroke-dasharray="4.5 1.8"/>
<ellipse cx="968" cy="776.2" rx="14" ry="11" stroke="#000" stroke-width="1" fill="none"/>
<ellipse cx="968" cy="776.2" rx="11.3" ry="9" stroke="#000" stroke-width="1" fill="none"/>
<rect x="967" y="774.5" width="2" height="2" fill="#000"/>
<path d="M1002 764.5 H1024 Q1025.5 764.5 1025.5 766.5 V770.5 Q1025.5 772.5 1023.5 772.5 H1003 Q1001 772.5 1001 770.5 V766.5 Q1001 764.5 1002 764.5 Z" stroke="#000" stroke-width="1" fill="none"/>
<line x1="1004" y1="774.5" x2="1022" y2="774.5" stroke="#000" stroke-width="1"/>
<ellipse cx="1012.7" cy="784.2" rx="7.5" ry="10" stroke="#000" stroke-width="1" fill="none"/>
<rect x="1036.5" y="762.5" width="41" height="76" stroke="#000" stroke-width="1" fill="none"/>
<path d="M1043 766 L1069 766 Q1073.5 766 1073.5 771 L1073.5 830 Q1073.5 836 1069 836 L1043 836 Z" stroke="#000" stroke-width="1" fill="none"/>
<line x1="1070.5" y1="770" x2="1070.5" y2="832" stroke="#000" stroke-width="1"/>
<circle cx="1055.5" cy="772.5" r="1.5" fill="#000"/>
<rect x="912.5" y="779.5" width="20" height="27" stroke="#000" stroke-width="1" fill="none" stroke-dasharray="4.5 1.8"/>
<line x1="914.5" y1="782" x2="931" y2="804" stroke="#000" stroke-width="1"/>
<path d="M926 803.5 L931 804 L930.5 799" stroke="#000" stroke-width="1" fill="none"/>
<defs><clipPath id="op1"><rect x="240" y="307.5" width="179.5" height="194"/></clipPath><clipPath id="op2"><rect x="240" y="532.8" width="179.5" height="195.6"/></clipPath></defs>
<g clip-path="url(#op1)">
<path d="M272.5 300.5 L272.5 510.5" stroke="#000" stroke-width="5"/>
<path d="M272.5 322.5 L350.5 322.5" stroke="#000" stroke-width="5"/>
<path d="M392.5 322.5 L424.5 322.5" stroke="#000" stroke-width="5"/>
<path d="M272.5 402.5 L328.5 402.5 L328.5 424.5" stroke="#000" stroke-width="5"/>
<path d="M328.5 460.5 L328.5 482.5 L272.5 482.5" stroke="#000" stroke-width="5"/>
<path d="M328.5 482.5 L336.5 482.5" stroke="#000" stroke-width="5"/>
<path d="M378.5 482.5 L386.5 482.5" stroke="#000" stroke-width="5"/>
<path d="M386.5 464.5 L386.5 510.5" stroke="#000" stroke-width="5"/>
<path d="M424.5 420.5 L386.5 420.5 L386.5 425.5" stroke="#000" stroke-width="5"/>
<path d="M272.5 300.5 L272.5 510.5" stroke="#d9d9d9" stroke-width="3"/>
<path d="M272.5 322.5 L350.5 322.5" stroke="#d9d9d9" stroke-width="3"/>
<path d="M392.5 322.5 L424.5 322.5" stroke="#d9d9d9" stroke-width="3"/>
<path d="M272.5 402.5 L328.5 402.5 L328.5 424.5" stroke="#d9d9d9" stroke-width="3"/>
<path d="M328.5 460.5 L328.5 482.5 L272.5 482.5" stroke="#d9d9d9" stroke-width="3"/>
<path d="M328.5 482.5 L336.5 482.5" stroke="#d9d9d9" stroke-width="3"/>
<path d="M378.5 482.5 L386.5 482.5" stroke="#d9d9d9" stroke-width="3"/>
<path d="M386.5 464.5 L386.5 510.5" stroke="#d9d9d9" stroke-width="3"/>
<path d="M424.5 420.5 L386.5 420.5 L386.5 425.5" stroke="#d9d9d9" stroke-width="3"/>
<rect x="269" y="332.4" width="7" height="60.8" fill="#fff"/>
<rect x="269" y="332.4" width="1.6" height="60.8" fill="#000"/>
<rect x="272" y="335.4" width="1" height="54.8" fill="#000"/>
<rect x="274" y="332.4" width="2" height="60.8" fill="#000"/>
<rect x="269.5" y="332.5" width="6" height="3" stroke="#000" stroke-width="1" fill="none"/>
<rect x="269.5" y="390.5" width="6" height="2" stroke="#000" stroke-width="1" fill="none"/>
<line x1="270.5" y1="336.5" x2="274.5" y2="336.5" stroke="#000" stroke-width="1"/>
<line x1="270.5" y1="389.5" x2="274.5" y2="389.5" stroke="#000" stroke-width="1"/>
<rect x="275.5" y="325.5" width="45" height="74" stroke="#000" stroke-width="1" fill="none"/>
<line x1="318" y1="327.7" x2="318" y2="366" stroke="#000" stroke-width="2.5"/>
<line x1="277" y1="334" x2="277" y2="394" stroke="#000" stroke-width="2"/>
<path d="M283 330 Q279 330 279 340 L279 350 Q281 350 285 343 L288 330" stroke="#000" stroke-width="1" fill="none"/>
<path d="M283 395 Q279 395 279 385 L279 375 Q281 375 285 382 L288 395" stroke="#000" stroke-width="1" fill="none"/>
<circle cx="299" cy="362.5" r="1.5" stroke="#000" stroke-width="0.8"/>
<rect x="297.5" y="391" width="3" height="5" stroke="#000" stroke-width="0.8" fill="none"/>
<line x1="276" y1="405" x2="276" y2="501" stroke="#000" stroke-width="2"/>
<line x1="291.5" y1="405" x2="291.5" y2="480" stroke="#000" stroke-width="1"/>
<line x1="291.5" y1="485" x2="291.5" y2="501" stroke="#000" stroke-width="1"/>
<line x1="337" y1="483.5" x2="379" y2="483.5" stroke="#000" stroke-width="1"/>
<line x1="351" y1="322.5" x2="392.3" y2="322.5" stroke="#000" stroke-width="1"/>
<line x1="351" y1="322.3" x2="381" y2="292.3" stroke="#000" stroke-width="3.4"/>
<line x1="351" y1="322.3" x2="381" y2="292.3" stroke="#fff" stroke-width="1.4"/>
<path d="M381 292.3 A42.43 42.43 0 0 1 392.3 322.3" stroke="#000" stroke-width="1" fill="none"/>
<polygon points="351.1,319.8 353.3,319.8 353.3,324.8 351.1,324.8" fill="#000" stroke="#000" stroke-width="0.7"/>
<polygon points="390,319.8 392.2,319.8 392.2,324.8 390,324.8" fill="#fff" stroke="#000" stroke-width="0.7"/>
<line x1="319.5" y1="397" x2="319.5" y2="366" stroke="#000" stroke-width="1"/>
<line x1="319" y1="397" x2="340" y2="375.3" stroke="#000" stroke-width="3.4"/>
<line x1="319" y1="397" x2="340" y2="375.3" stroke="#fff" stroke-width="1.4"/>
<path d="M340 375.3 A30.2 30.2 0 0 0 319 366" stroke="#000" stroke-width="1" fill="none"/>
<polygon points="316.5,396.9 316.5,394.7 321.5,394.7 321.5,396.9" fill="#000" stroke="#000" stroke-width="0.7"/>
<polygon points="316.5,368.3 316.5,366.1 321.5,366.1 321.5,368.3" fill="#fff" stroke="#000" stroke-width="0.7"/>
<line x1="328.5" y1="461" x2="328.5" y2="424.3" stroke="#000" stroke-width="1"/>
<line x1="328.4" y1="461" x2="356.4" y2="435.3" stroke="#000" stroke-width="3.4"/>
<line x1="328.4" y1="461" x2="356.4" y2="435.3" stroke="#fff" stroke-width="1.4"/>
<path d="M356.4 435.3 A38.01 38.01 0 0 0 328.4 424.3" stroke="#000" stroke-width="1" fill="none"/>
<polygon points="325.9,460.9 325.9,458.7 330.9,458.7 330.9,460.9" fill="#000" stroke="#000" stroke-width="0.7"/>
<polygon points="325.9,426.6 325.9,424.4 330.9,424.4 330.9,426.6" fill="#fff" stroke="#000" stroke-width="0.7"/>
<line x1="388.5" y1="427.5" x2="388.5" y2="463.3" stroke="#000" stroke-width="1"/>
<line x1="388.4" y1="427.5" x2="414" y2="454" stroke="#000" stroke-width="3.4"/>
<line x1="388.4" y1="427.5" x2="414" y2="454" stroke="#fff" stroke-width="1.4"/>
<path d="M414 454 A36.85 36.85 0 0 1 388.4 463.3" stroke="#000" stroke-width="1" fill="none"/>
<polygon points="390.9,427.6 390.9,429.8 385.9,429.8 385.9,427.6" fill="#000" stroke="#000" stroke-width="0.7"/>
<polygon points="390.9,461 390.9,463.2 385.9,463.2 385.9,461" fill="#fff" stroke="#000" stroke-width="0.7"/>
<line x1="379" y1="482.5" x2="337" y2="482.5" stroke="#000" stroke-width="1"/>
<line x1="379" y1="482.8" x2="349" y2="512.8" stroke="#000" stroke-width="3.4"/>
<line x1="379" y1="482.8" x2="349" y2="512.8" stroke="#fff" stroke-width="1.4"/>
<path d="M349 512.8 A42.43 42.43 0 0 1 337 482.8" stroke="#000" stroke-width="1" fill="none"/>
<polygon points="378.9,485.3 376.7,485.3 376.7,480.3 378.9,480.3" fill="#000" stroke="#000" stroke-width="0.7"/>
<polygon points="339.3,485.3 337.1,485.3 337.1,480.3 339.3,480.3" fill="#fff" stroke="#000" stroke-width="0.7"/>
<ellipse cx="408.6" cy="492.1" rx="7.5" ry="9.5" stroke="#000" stroke-width="1" fill="none"/>
</g>
<text class="F" transform="translate(359.7 334) scale(1.0803 1)" font-size="11.14" fill="#000">2868</text>
<text class="F" transform="translate(339.22 372.9) scale(1.1099 1)" font-size="15.57" fill="#000">OWNER'S</text>
<text class="F" transform="translate(356.51 394.7) scale(1.0970 1)" font-size="16.96" fill="#000">BATH</text>
<text class="F" transform="translate(264.5 385.7) rotate(-90) scale(0.8759 1)" font-size="13.57" fill="#000">4010 FX</text>
<text class="F" transform="translate(326 456.08) rotate(-90) scale(0.8164 1)" font-size="14.29" fill="#000">2468</text>
<text class="F" transform="translate(386 458.4) rotate(-90) scale(0.9952 1)" font-size="12.14" fill="#000">2468</text>
<text class="F" transform="translate(344.08 479.7) scale(1.0596 1)" font-size="11.71" fill="#000">2868</text>
<g clip-path="url(#op2)">
<path d="M270.5 524.5 L270.5 734.5" stroke="#000" stroke-width="5"/>
<path d="M270.5 548.5 L346.5 548.5" stroke="#000" stroke-width="5"/>
<path d="M389.5 548.5 L424.5 548.5" stroke="#000" stroke-width="5"/>
<path d="M270.5 628.5 L330.5 628.5" stroke="#000" stroke-width="5"/>
<path d="M270.5 709.5 L334.5 709.5" stroke="#000" stroke-width="5"/>
<path d="M374.5 709.5 L383.5 709.5" stroke="#000" stroke-width="5"/>
<path d="M383.5 690.5 L383.5 734.5" stroke="#000" stroke-width="5"/>
<path d="M424.5 646.5 L383.5 646.5 L383.5 652.5" stroke="#000" stroke-width="5"/>
<path d="M270.5 524.5 L270.5 734.5" stroke="#d9d9d9" stroke-width="3"/>
<path d="M270.5 548.5 L346.5 548.5" stroke="#d9d9d9" stroke-width="3"/>
<path d="M389.5 548.5 L424.5 548.5" stroke="#d9d9d9" stroke-width="3"/>
<path d="M270.5 628.5 L330.5 628.5" stroke="#d9d9d9" stroke-width="3"/>
<path d="M270.5 709.5 L334.5 709.5" stroke="#d9d9d9" stroke-width="3"/>
<path d="M374.5 709.5 L383.5 709.5" stroke="#d9d9d9" stroke-width="3"/>
<path d="M383.5 690.5 L383.5 734.5" stroke="#d9d9d9" stroke-width="3"/>
<path d="M424.5 646.5 L383.5 646.5 L383.5 652.5" stroke="#d9d9d9" stroke-width="3"/>
<rect x="267" y="562.4" width="7" height="53" fill="#fff"/>
<rect x="267" y="562.4" width="1.6" height="53" fill="#000"/>
<rect x="270" y="565.4" width="1" height="47" fill="#000"/>
<rect x="272" y="562.4" width="2" height="53" fill="#000"/>
<rect x="267.5" y="562.5" width="6" height="3" stroke="#000" stroke-width="1" fill="none"/>
<rect x="267.5" y="612.5" width="6" height="2" stroke="#000" stroke-width="1" fill="none"/>
<line x1="268.5" y1="566.5" x2="272.5" y2="566.5" stroke="#000" stroke-width="1"/>
<line x1="268.5" y1="611.5" x2="272.5" y2="611.5" stroke="#000" stroke-width="1"/>
<line x1="325.5" y1="551.5" x2="325.5" y2="626.3" stroke="#000" stroke-width="1"/>
<ellipse cx="298.8" cy="588.9" rx="20.3" ry="32" stroke="#000" stroke-width="1" fill="none"/>
<ellipse cx="298.8" cy="588.9" rx="14.3" ry="26.5" stroke="#000" stroke-width="1" fill="none"/>
<rect x="297" y="557.5" width="3.5" height="2.5" fill="#000"/>
<rect x="272.5" y="631.5" width="45" height="76" stroke="#000" stroke-width="1" fill="none"/>
<rect x="274.5" y="634.5" width="39" height="70" stroke="#000" stroke-width="1" fill="none"/>
<path d="M275 636 L313 702 M313 636 L275 702 M276 700 L285 706" stroke="#000" stroke-width="0.8" fill="none"/>
<circle cx="294" cy="669" r="2.6" stroke="#000" stroke-width="1.6"/>
<rect x="292.5" y="698.5" width="3" height="5" stroke="#000" stroke-width="0.8" fill="none"/>
<line x1="316.5" y1="631.7" x2="316.5" y2="707.3" stroke="#000" stroke-width="1"/>
<line x1="319.5" y1="631.7" x2="319.5" y2="702" stroke="#000" stroke-width="1"/>
<line x1="334.6" y1="709.5" x2="375" y2="709.5" stroke="#000" stroke-width="1"/>
<line x1="347" y1="549.5" x2="389.1" y2="549.5" stroke="#000" stroke-width="1"/>
<line x1="347" y1="549" x2="377" y2="519" stroke="#000" stroke-width="3.4"/>
<line x1="347" y1="549" x2="377" y2="519" stroke="#fff" stroke-width="1.4"/>
<path d="M377 519 A42.43 42.43 0 0 1 389.1 549" stroke="#000" stroke-width="1" fill="none"/>
<polygon points="347.1,546.5 349.3,546.5 349.3,551.5 347.1,551.5" fill="#000" stroke="#000" stroke-width="0.7"/>
<polygon points="386.8,546.5 389,546.5 389,551.5 386.8,551.5" fill="#fff" stroke="#000" stroke-width="0.7"/>
<line x1="316.5" y1="702.6" x2="316.5" y2="673" stroke="#000" stroke-width="1"/>
<line x1="316.5" y1="702.6" x2="337.5" y2="681.6" stroke="#000" stroke-width="3.4"/>
<line x1="316.5" y1="702.6" x2="337.5" y2="681.6" stroke="#fff" stroke-width="1.4"/>
<path d="M337.5 681.6 A29.7 29.7 0 0 0 316.5 673" stroke="#000" stroke-width="1" fill="none"/>
<polygon points="314,702.5 314,700.3 319,700.3 319,702.5" fill="#000" stroke="#000" stroke-width="0.7"/>
<polygon points="314,675.3 314,673.1 319,673.1 319,675.3" fill="#fff" stroke="#000" stroke-width="0.7"/>
<line x1="385.5" y1="652.8" x2="385.5" y2="689.6" stroke="#000" stroke-width="1"/>
<line x1="385.3" y1="652.8" x2="411" y2="679.3" stroke="#000" stroke-width="3.4"/>
<line x1="385.3" y1="652.8" x2="411" y2="679.3" stroke="#fff" stroke-width="1.4"/>
<path d="M411 679.3 A36.92 36.92 0 0 1 385.3 689.6" stroke="#000" stroke-width="1" fill="none"/>
<polygon points="387.8,652.9 387.8,655.1 382.8,655.1 382.8,652.9" fill="#000" stroke="#000" stroke-width="0.7"/>
<polygon points="387.8,687.3 387.8,689.5 382.8,689.5 382.8,687.3" fill="#fff" stroke="#000" stroke-width="0.7"/>
<line x1="375" y1="709.5" x2="334.6" y2="709.5" stroke="#000" stroke-width="1"/>
<line x1="375" y1="709.5" x2="345" y2="739.5" stroke="#000" stroke-width="3.4"/>
<line x1="375" y1="709.5" x2="345" y2="739.5" stroke="#fff" stroke-width="1.4"/>
<path d="M345 739.5 A42.43 42.43 0 0 1 334.6 709.5" stroke="#000" stroke-width="1" fill="none"/>
<polygon points="374.9,712 372.7,712 372.7,707 374.9,707" fill="#000" stroke="#000" stroke-width="0.7"/>
<polygon points="336.9,712 334.7,712 334.7,707 336.9,707" fill="#fff" stroke="#000" stroke-width="0.7"/>
<ellipse cx="406.3" cy="717.5" rx="7.5" ry="9.5" stroke="#000" stroke-width="1" fill="none"/>
</g>
<text class="F" transform="translate(356.6 559.6) scale(1.0845 1)" font-size="11.14" fill="#000">2868</text>
<text class="F" transform="translate(336.21 599) scale(1.0535 1)" font-size="16.71" fill="#000">OWNER'S</text>
<text class="F" transform="translate(353.42 620) scale(1.1040 1)" font-size="16.81" fill="#000">BATH</text>
<text class="F" transform="translate(261.4 612.79) rotate(-90) scale(0.9068 1)" font-size="13.43" fill="#000">3636 FX</text>
<text class="F" transform="translate(382 684.6) rotate(-90) scale(1.0070 1)" font-size="12" fill="#000">2468</text>
<text class="F" transform="translate(341.8 705.8) scale(1.0152 1)" font-size="11.86" fill="#000">2868</text>
<path d="M1420.5 333.5 L1420.5 320.5 L1781.5 320.5 L1781.5 596.5 L1420.5 596.5 L1420.5 365.5" stroke="#000" stroke-width="5"/>
<path d="M1781.5 487.5 L1623.5 487.5 L1623.5 549.5" stroke="#000" stroke-width="5"/>
<path d="M1623.5 588.5 L1623.5 596.5" stroke="#000" stroke-width="5"/>
<path d="M1623.5 541.5 L1728.5 541.5" stroke="#000" stroke-width="5"/>
<path d="M1420.5 333.5 L1420.5 320.5 L1781.5 320.5 L1781.5 596.5 L1420.5 596.5 L1420.5 365.5" stroke="#d9d9d9" stroke-width="3"/>
<path d="M1781.5 487.5 L1623.5 487.5 L1623.5 549.5" stroke="#d9d9d9" stroke-width="3"/>
<path d="M1623.5 588.5 L1623.5 596.5" stroke="#d9d9d9" stroke-width="3"/>
<path d="M1623.5 541.5 L1728.5 541.5" stroke="#d9d9d9" stroke-width="3"/>
<rect x="1678.5" y="540.3" width="49.7" height="3" fill="#fff"/>
<line x1="1728.2" y1="542.5" x2="1779" y2="542.5" stroke="#000" stroke-width="1"/>
<rect x="1779" y="380.9" width="7" height="45.7" fill="#fff"/>
<rect x="1779" y="380.9" width="2" height="45.7" fill="#000"/>
<rect x="1782" y="383.9" width="1" height="39.7" fill="#000"/>
<rect x="1784.4" y="380.9" width="1.6" height="45.7" fill="#000"/>
<rect x="1779.5" y="381.5" width="6" height="2" stroke="#000" stroke-width="1" fill="none"/>
<rect x="1779.5" y="423.5" width="6" height="3" stroke="#000" stroke-width="1" fill="none"/>
<line x1="1780.5" y1="384.5" x2="1784.5" y2="384.5" stroke="#000" stroke-width="1"/>
<line x1="1780.5" y1="422.5" x2="1784.5" y2="422.5" stroke="#000" stroke-width="1"/>
<rect x="1779" y="504.6" width="7" height="29.3" fill="#fff"/>
<rect x="1779" y="504.6" width="2" height="29.3" fill="#000"/>
<rect x="1782" y="507.6" width="1" height="23.3" fill="#000"/>
<rect x="1784.4" y="504.6" width="1.6" height="29.3" fill="#000"/>
<rect x="1779.5" y="505.5" width="6" height="2" stroke="#000" stroke-width="1" fill="none"/>
<rect x="1779.5" y="530.5" width="6" height="3" stroke="#000" stroke-width="1" fill="none"/>
<line x1="1780.5" y1="508.5" x2="1784.5" y2="508.5" stroke="#000" stroke-width="1"/>
<line x1="1780.5" y1="529.5" x2="1784.5" y2="529.5" stroke="#000" stroke-width="1"/>
<rect x="1779" y="549.7" width="7" height="29.3" fill="#fff"/>
<rect x="1779" y="549.7" width="2" height="29.3" fill="#000"/>
<rect x="1782" y="552.7" width="1" height="23.3" fill="#000"/>
<rect x="1784.4" y="549.7" width="1.6" height="29.3" fill="#000"/>
<rect x="1779.5" y="550.5" width="6" height="2" stroke="#000" stroke-width="1" fill="none"/>
<rect x="1779.5" y="576.5" width="6" height="2" stroke="#000" stroke-width="1" fill="none"/>
<line x1="1780.5" y1="553.5" x2="1784.5" y2="553.5" stroke="#000" stroke-width="1"/>
<line x1="1780.5" y1="575.5" x2="1784.5" y2="575.5" stroke="#000" stroke-width="1"/>
<path d="M1417 328.5 H1297.5 V598.5 H1417" stroke="#000" stroke-width="1" fill="none" stroke-dasharray="5.5 3"/>
<path d="M1603.3 208.3 V223.3 H1783.6 V318.5" stroke="#000" stroke-width="1" fill="none" stroke-dasharray="5.5 3"/>
<line x1="1423" y1="359.5" x2="1779" y2="359.5" stroke="#000" stroke-width="1" stroke-dasharray="5.5 3"/>
<line x1="1783.5" y1="599" x2="1783.5" y2="615.3" stroke="#000" stroke-width="1" stroke-dasharray="5.5 3"/>
<line x1="1422" y1="334.5" x2="1444.6" y2="356" stroke="#000" stroke-width="3.4"/>
<line x1="1422" y1="334.5" x2="1444.6" y2="356" stroke="#fff" stroke-width="1.4"/>
<path d="M1444.6 356 A31.19 31.19 0 0 1 1422 365.6" stroke="#000" stroke-width="1" fill="none"/>
<polygon points="1424.5,334.6 1424.5,336.8 1419.5,336.8 1419.5,334.6" fill="#000" stroke="#000" stroke-width="0.7"/>
<polygon points="1424.5,363.3 1424.5,365.5 1419.5,365.5 1419.5,363.3" fill="#fff" stroke="#000" stroke-width="0.7"/>
<line x1="1622.5" y1="588.4" x2="1622.5" y2="549.7" stroke="#000" stroke-width="1"/>
<line x1="1622.8" y1="588.4" x2="1594" y2="561.4" stroke="#000" stroke-width="3.4"/>
<line x1="1622.8" y1="588.4" x2="1594" y2="561.4" stroke="#fff" stroke-width="1.4"/>
<path d="M1594 561.4 A39.48 39.48 0 0 1 1622.8 549.7" stroke="#000" stroke-width="1" fill="none"/>
<polygon points="1620.3,588.3 1620.3,586.1 1625.3,586.1 1625.3,588.3" fill="#000" stroke="#000" stroke-width="0.7"/>
<polygon points="1620.3,552 1620.3,549.8 1625.3,549.8 1625.3,552" fill="#fff" stroke="#000" stroke-width="0.7"/>
<line x1="1674.9" y1="489.5" x2="1674.9" y2="540" stroke="#000" stroke-width="1.6"/>
<line x1="1674.9" y1="544" x2="1674.9" y2="590" stroke="#000" stroke-width="1.6"/>
<line x1="1700.1" y1="489.5" x2="1700.1" y2="540" stroke="#000" stroke-width="1.6"/>
<line x1="1700.1" y1="544" x2="1700.1" y2="590" stroke="#000" stroke-width="1.6"/>
<line x1="1687.5" y1="489.5" x2="1687.5" y2="540" stroke="#000" stroke-width="1" stroke-dasharray="2.5 1.5"/>
<line x1="1687.5" y1="544" x2="1687.5" y2="590" stroke="#000" stroke-width="1" stroke-dasharray="2.5 1.5"/>
<line x1="1712.5" y1="489.5" x2="1712.5" y2="540" stroke="#000" stroke-width="1" stroke-dasharray="2.5 1.5"/>
<line x1="1712.5" y1="544" x2="1712.5" y2="590" stroke="#000" stroke-width="1" stroke-dasharray="2.5 1.5"/>
<line x1="1725.5" y1="489.5" x2="1725.5" y2="540" stroke="#000" stroke-width="1" stroke-dasharray="2.5 1.5"/>
<line x1="1725.5" y1="544" x2="1725.5" y2="590" stroke="#000" stroke-width="1" stroke-dasharray="2.5 1.5"/>
<line x1="1662.5" y1="489.5" x2="1662.5" y2="540" stroke="#000" stroke-width="1" stroke-dasharray="2.5 1.5"/>
<line x1="1726.5" y1="489.5" x2="1726.5" y2="590" stroke="#000" stroke-width="1"/>
<line x1="1676.5" y1="544" x2="1676.5" y2="590" stroke="#000" stroke-width="1" stroke-dasharray="2.5 1.5"/>
<line x1="1645" y1="489.5" x2="1727" y2="489.5" stroke="#000" stroke-width="1"/>
<line x1="1674.9" y1="545.5" x2="1727" y2="545.5" stroke="#000" stroke-width="1"/>
<line x1="1662" y1="514.5" x2="1726" y2="514.5" stroke="#000" stroke-width="1"/>
<path d="M1670 509 L1663 514.5 L1670 520" stroke="#000" stroke-width="1" fill="none"/>
<line x1="1675.5" y1="569.5" x2="1711" y2="569.5" stroke="#000" stroke-width="1"/>
<path d="M1704.5 564 L1711 569.6 L1704.5 575" stroke="#000" stroke-width="1" fill="none"/>
<path d="M1645.6 490 L1655 509.3 L1661 510 L1652.6 519.3 L1661 520.4 L1667.3 538" stroke="#000" stroke-width="1" fill="none"/>
<rect x="1673.8" y="588.4" width="53.2" height="4.6" fill="#000"/>
<path d="M1738 519.2 L1732 519.2 L1719 538" stroke="#000" stroke-width="1" fill="none"/>
<path d="M1717 540 L1721 534 L1723 537 Z" stroke="#000" stroke-width="1" fill="#000"/>
<text class="F" transform="translate(1313.6 449.1) scale(0.8108 1)" font-size="18.43" font-weight="bold" fill="#000">UNFINISHED</text>
<text class="F" transform="translate(1322.15 465.7) scale(0.8347 1)" font-size="18.14" font-weight="bold" fill="#000">STORAGE</text>
<text class="F" transform="translate(1342.88 479.5) scale(0.8083 1)" font-size="14.71" font-weight="bold" fill="#000">6'x18'</text>
<text class="F" transform="translate(1498.84 448.4) scale(0.7739 1)" font-size="19.14" font-weight="bold" fill="#000">BONUS</text>
<text class="F" transform="translate(1503.03 465) scale(0.8449 1)" font-size="17.71" font-weight="bold" fill="#000">ROOM</text>
<text class="F" transform="translate(1506.24 479.6) scale(0.7824 1)" font-size="14.86" font-weight="bold" fill="#000">13'x18'</text>
<text class="F" transform="translate(1681.97 408) scale(0.6843 1)" font-size="16.43" font-weight="bold" fill="#000">10'x10'</text>
<text class="F" transform="translate(1404.3 362.49) rotate(-90) scale(0.7618 1)" font-size="14.71" font-weight="bold" fill="#000">2030</text>
<text class="F" transform="translate(1417 371.56) rotate(-90) scale(0.6969 1)" font-size="14.86" font-weight="bold" fill="#000">ACCESS</text>
<text class="F" transform="translate(1658.4 573.7) scale(0.7901 1)" font-size="13.62" font-weight="bold" fill="#000">DN</text>
<text class="F" transform="translate(1637.4 581.09) rotate(-90) scale(0.7856 1)" font-size="14.14" font-weight="bold" fill="#000">2068</text>
<text class="F" transform="translate(1742.79 521.6) scale(0.9493 1)" font-size="7.57" font-weight="bold" fill="#000">42&quot; HALF</text>
<text class="F" transform="translate(1748.2 531.5) scale(0.9715 1)" font-size="7.54" font-weight="bold" fill="#000">WALL</text>
<text class="F" transform="translate(1796 427.08) rotate(-90) scale(0.9124 1)" font-size="13.29" fill="#000">3050 SH</text>
<text class="F" transform="translate(1796.8 534.49) rotate(-90) scale(0.8283 1)" font-size="14.29" fill="#000">2020 FX</text>
<text class="F" transform="translate(1796.8 595.41) rotate(-90) scale(0.8509 1)" font-size="14.29" fill="#000">2020 FX</text>
</g>
</svg>
</body></html>
